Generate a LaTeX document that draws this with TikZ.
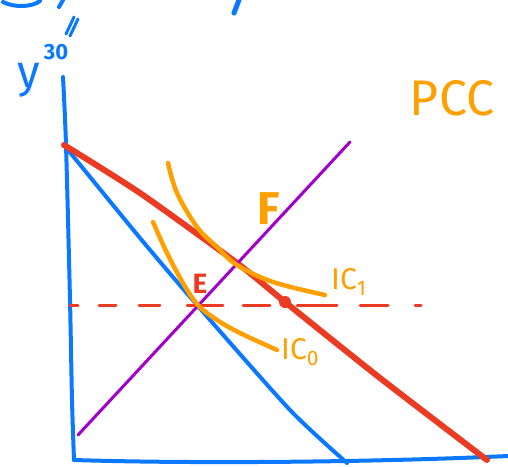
\documentclass[tikz,border=0pt]{standalone}
\usepackage{fontspec}
\setmainfont{Fira Sans}
\definecolor{penblue}{RGB}{10,120,255}
\definecolor{penred}{RGB}{235,60,35}
\definecolor{penpurple}{RGB}{160,0,200}
\definecolor{penorange}{RGB}{255,160,0}
\begin{document}
\begin{tikzpicture}[x=1pt,y=-1pt,line cap=round,line join=round,
  axisline/.style={draw=penblue,line width=4pt},
  budget/.style={draw=penblue,line width=4pt},
  budgetnew/.style={draw=penred,line width=6pt},
  pcc/.style={draw=penpurple,line width=3pt},
  ic/.style={draw=penorange,line width=4.5pt},
  dashseg/.style={draw=penred,line width=3pt},
  orangetxt/.style={text=penorange,font=\fontsize{30}{30}\selectfont},
  redtxt/.style={text=penred,font=\fontsize{28}{28}\selectfont\bfseries},
  bluetxt/.style={text=penblue,font=\fontsize{46}{46}\selectfont}]
\useasboundingbox (0,0) rectangle (508,466);
% top fragments
\draw[axisline] (3,2) .. controls (15,8) and (32,7) .. (40,1);
\draw[axisline] (63,0) -- (59,7);
\draw[axisline,line width=5pt] (239,0) -- (234,13);
\draw[axisline,line width=3pt] (74,17) -- (66,34);
\draw[axisline,line width=3pt] (78,19) -- (70,36);
% labels
\node[bluetxt,anchor=center] (ylab) at (29,80) {y};
\node[text=penblue,font=\fontsize{22}{22}\selectfont\bfseries,anchor=center] (ysup) at (56,52) {30};
% axes
\coordinate (O) at (74,460);
\coordinate (ytop) at (63,77);
\coordinate (xend) at (508,456);
\draw[axisline] plot[smooth] coordinates {(ytop) (66,145) (70,300) (72,400) (O)};
\draw[axisline] (O) .. controls (200,464) and (380,462) .. (xend);
% budget lines
\coordinate (A) at (64,145);
\coordinate (Bblue) at (347,463);
\coordinate (Bred) at (487,460);
\draw[budget] plot[smooth,tension=0.4] coordinates {(A) (140,238) (197,305) (290,410) (Bblue)};
\draw[budgetnew] plot[smooth,tension=0.4] coordinates {(A) (140,193) (237,263) (285,302) (380,378) (Bred)};
% PCC line
\coordinate (P0) at (78,435);
\coordinate (P1) at (350,142);
\draw[pcc] (P0) -- (P1);
% dashed line
\foreach \a/\b in {70/78,99/116,139/160,187/223,243/270,297/337,360/388,415/421}
  \draw[dashseg] (\a,305) -- (\b,305);
% red dot
\fill[penred] (285,302) circle (6);
% indifference curves
\draw[ic] plot[smooth,tension=0.6] coordinates {(168,163) (177,193) (197,227) (217,247) (237,265) (273,282) (325,295)};
\draw[ic] plot[smooth,tension=0.6] coordinates {(153,222) (167,253) (183,283) (198,305) (217,320) (240,333) (277,350)};
% text labels
\node[text=penorange,font=\fontsize{46}{46}\selectfont\bfseries] (F) at (269,209) {F};
\node[redtxt] (E) at (200,284) {E};
\node[orangetxt,anchor=west,inner sep=0pt] (IC1) at (331,282) {IC\textsubscript{1}};
\node[orangetxt,anchor=west,inner sep=0pt] (IC0) at (281,352) {IC\textsubscript{0}};
\node[orangetxt,font=\fontsize{50}{50}\selectfont] (PCC) at (452,98) {PCC};
\end{tikzpicture}
\end{document}
